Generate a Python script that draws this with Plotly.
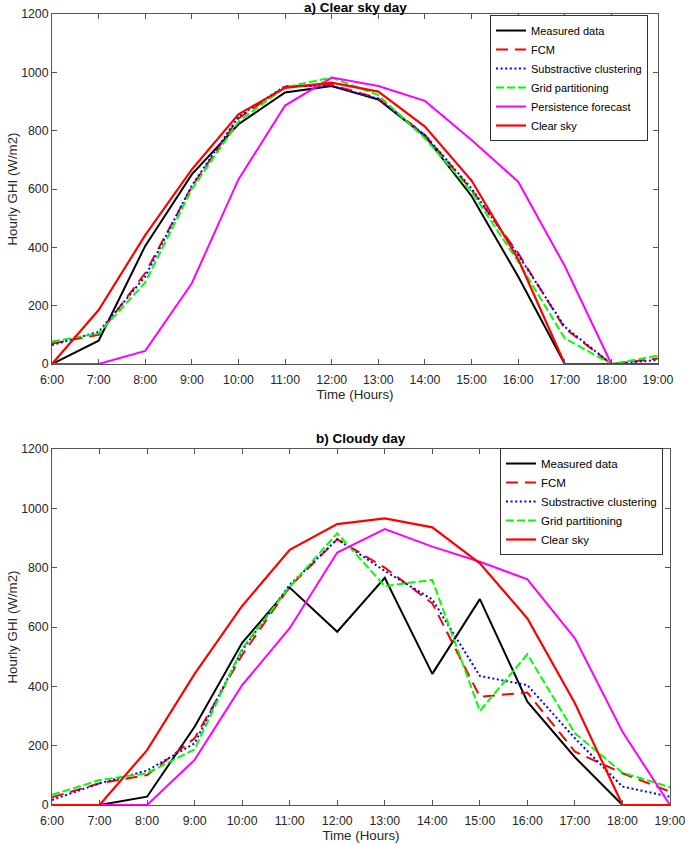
import plotly.graph_objects as go

hours = list(range(6, 20))
hour_labels = [f"{h}:00" for h in hours]

# a) Clear sky day
a_measured = [0, 80, 405, 650, 822, 931, 953, 907, 782, 576, 300, 0, 0, 0]
a_fcm = [70, 100, 312, 608, 842, 951, 957, 911, 785, 597, 380, 122, 0, 19]
a_sub = [65, 110, 300, 612, 848, 953, 953, 909, 785, 602, 374, 128, 0, 14]
a_grid = [77, 105, 280, 600, 831, 949, 982, 922, 774, 591, 351, 88, 0, 29]
a_persist = [0, 0, 45, 277, 633, 886, 982, 953, 902, 768, 625, 336, 0, 0]
a_clear = [0, 185, 442, 667, 856, 947, 965, 934, 814, 629, 360, 0, 0, 0]

# b) Cloudy day
b_measured = [0, 0, 28, 264, 547, 733, 584, 766, 442, 694, 348, 161, 0, 0]
b_fcm = [26, 73, 101, 225, 506, 736, 896, 800, 680, 365, 379, 180, 107, 45]
b_sub = [17, 73, 116, 208, 522, 742, 896, 789, 693, 435, 404, 225, 62, 28]
b_grid = [34, 84, 107, 188, 528, 736, 916, 738, 759, 317, 508, 242, 109, 60]
b_persist = [0, 0, 0, 152, 404, 596, 851, 930, 871, 820, 761, 562, 247, 0]
b_clear = [0, 0, 185, 442, 671, 860, 947, 966, 936, 815, 629, 343, 0, 0]

series_names = ["Measured data", "FCM", "Substractive clustering",
                "Grid partitioning", "Persistence forecast", "Clear sky"]
colors = ["#000000", "#ff0000", "#0000ff", "#00ff00", "#ff00ff", "#ff0000"]
dashes = ["solid", "12px,7px", "2px,2.6px", "8px,3px", "solid", "solid"]
widths = [2, 2, 2, 2, 2, 2.2]

FONT = "Liberation Sans, Arial, sans-serif"
fig = go.Figure()

top_data = [a_measured, a_fcm, a_sub, a_grid, a_persist, a_clear]
bot_data = [b_measured, b_fcm, b_sub, b_grid, b_persist, b_clear]

for i, ys in enumerate(top_data):
    fig.add_trace(go.Scatter(x=hours, y=ys, mode="lines", name=series_names[i],
                             line=dict(color=colors[i], dash=dashes[i], width=widths[i]),
                             xaxis="x", yaxis="y", legend="legend"))

for i, ys in enumerate(bot_data):
    fig.add_trace(go.Scatter(x=hours, y=ys, mode="lines", name=series_names[i],
                             line=dict(color=colors[i], dash=dashes[i], width=widths[i]),
                             xaxis="x2", yaxis="y2", legend="legend2",
                             showlegend=(i != 4)))

axis_common = dict(
    showgrid=False, zeroline=False, showline=True, linecolor="#555555", linewidth=1,
    mirror="ticks", ticks="inside", ticklen=5, tickcolor="#555555", automargin=False,
    ticklabeloverflow="allow",
    tickfont=dict(family=FONT, size=12.3, color="#262626"),
)

xcommon = dict(axis_common, range=[6, 19], tickvals=hours, ticktext=hour_labels,
               title=dict(text="Time (Hours)", font=dict(family=FONT, size=13.3, color="#262626"),
                          standoff=3),
               ticklabelstandoff=4)
ycommon = dict(axis_common, range=[0, 1200], tickvals=list(range(0, 1201, 200)),
               title=dict(text="Hourly GHI (W/m2)", font=dict(family=FONT, size=13.3, color="#262626"),
                          standoff=0))

fig.update_layout(
    width=685, height=845,
    margin=dict(l=52, r=15, t=14, b=40),
    paper_bgcolor="white", plot_bgcolor="white",
    font=dict(family=FONT, size=12, color="#262626"),
    xaxis=dict(xcommon, domain=[0, 0.9806], anchor="y"),
    yaxis=dict(ycommon, domain=[0.5575, 1.0], anchor="x"),
    xaxis2=dict(xcommon, domain=[0, 1.0], anchor="y2"),
    yaxis2=dict(ycommon, domain=[0, 0.45], anchor="x2"),
    legend=dict(x=0.7087, y=0.9987, xanchor="left", yanchor="top",
                bgcolor="white", bordercolor="#333333", borderwidth=1,
                font=dict(family=FONT, size=11, color="#000000")),
    legend2=dict(x=0.7249, y=0.4513, xanchor="left", yanchor="top",
                 bgcolor="white", bordercolor="#333333", borderwidth=1,
                 font=dict(family=FONT, size=11.5, color="#000000")),
    showlegend=True,
    annotations=[
        dict(text="<b>a) Clear sky day</b>", xref="x domain", yref="paper",
             x=0.5, y=1.0, xanchor="center", yanchor="bottom", showarrow=False, yshift=-3,
             font=dict(family=FONT, size=13.5, color="#000000")),
        dict(text="<b>b) Cloudy day</b>", xref="x2 domain", yref="paper",
             x=0.5, y=0.45, xanchor="center", yanchor="bottom", showarrow=False, yshift=1,
             font=dict(family=FONT, size=13.5, color="#000000")),
    ],
)

fig.write_html("out.html",
               config={"displayModeBar": False},
               post_script="document.body.style.margin='0';document.body.style.overflow='hidden';")
